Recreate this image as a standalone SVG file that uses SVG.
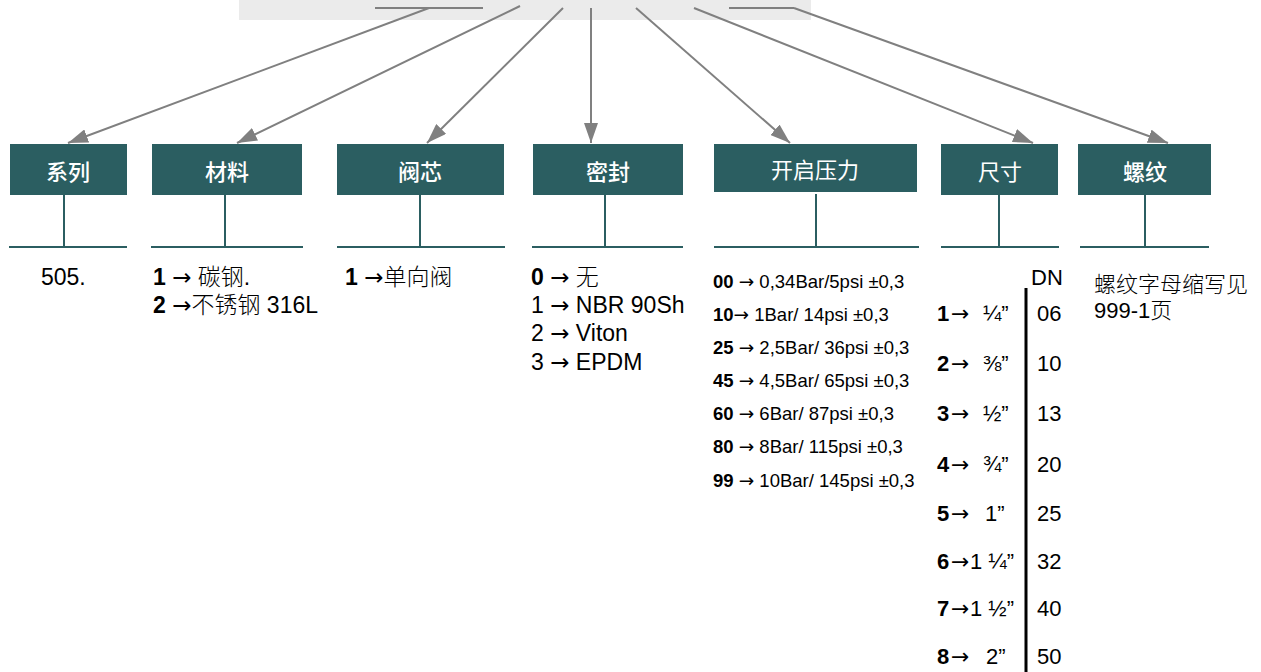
<svg xmlns="http://www.w3.org/2000/svg" width="1261" height="672" viewBox="0 0 1261 672">
<style>
.box{fill:#2b5e61}
.stem{stroke:#2b5e61;stroke-width:2;fill:none}
.title{fill:#fff;font-family:"Noto Sans CJK SC",sans-serif;font-size:22px;font-weight:500;text-anchor:middle}
.reg{font-weight:normal}
.conn{stroke:#808080;stroke-width:2;fill:none}
.t{font-family:"Liberation Sans","Noto Sans CJK SC",sans-serif;font-size:23px;fill:#000}
.s{font-family:"Liberation Sans","Noto Sans CJK SC",sans-serif;font-size:18.5px;fill:#000}
.r{font-family:"Liberation Sans","Noto Sans CJK SC",sans-serif;font-size:22px;fill:#000}
.b{font-weight:bold}
.ar{font-family:"DejaVu Sans",sans-serif}
.cjk{font-family:"Noto Sans CJK SC",sans-serif;font-weight:300}
</style>
<defs>
<marker id="ah" markerUnits="userSpaceOnUse" markerWidth="22" markerHeight="14" refX="20" refY="7" orient="auto">
<path d="M0,0 L20,7 L0,14 Z" fill="#808080"/>
</marker>
</defs>
<rect x="239" y="0" width="572" height="20" fill="#ebebeb"/>
<g id="connectors">
<line class="conn" x1="375" y1="8" x2="483" y2="8"/>
<line class="conn" x1="729" y1="8" x2="794" y2="8"/>
<line class="conn" x1="429" y1="8" x2="68" y2="143" marker-end="url(#ah)"/>
<line class="conn" x1="520" y1="6" x2="237" y2="143" marker-end="url(#ah)"/>
<line class="conn" x1="563" y1="8" x2="427" y2="143" marker-end="url(#ah)"/>
<line class="conn" x1="591" y1="8" x2="591" y2="143" marker-end="url(#ah)"/>
<line class="conn" x1="636" y1="8" x2="790" y2="143" marker-end="url(#ah)"/>
<line class="conn" x1="694" y1="8" x2="1033" y2="143" marker-end="url(#ah)"/>
<line class="conn" x1="794" y1="8" x2="1168" y2="143" marker-end="url(#ah)"/>
</g>
<g id="node-xilie">
<rect class="box" x="10" y="144" width="117" height="51"/>
<text class="title" x="68" y="180">系列</text>
<line class="stem" x1="64" y1="195" x2="64" y2="247"/>
<line class="stem" x1="9" y1="247" x2="127" y2="247"/>
<text class="t" x="41" y="285">505.</text>
</g>
<g id="node-cailiao">
<rect class="box" x="152" y="144" width="150" height="51"/>
<text class="title" x="227" y="180">材料</text>
<line class="stem" x1="225" y1="195" x2="225" y2="247"/>
<line class="stem" x1="151" y1="247" x2="303" y2="247"/>
<text class="t" x="153" y="285"><tspan class="b">1</tspan> <tspan class="ar">→</tspan> <tspan class="cjk">碳钢</tspan>.</text>
<text class="t" x="153" y="313"><tspan class="b">2</tspan> <tspan class="ar">→</tspan><tspan class="cjk">不锈钢</tspan> 316L</text>
</g>
<g id="node-faxin">
<rect class="box" x="337" y="144" width="167" height="51"/>
<text class="title" x="420" y="180">阀芯</text>
<line class="stem" x1="420" y1="195" x2="420" y2="247"/>
<line class="stem" x1="337" y1="247" x2="505" y2="247"/>
<text class="t" x="345" y="285"><tspan class="b">1</tspan> <tspan class="ar">→</tspan><tspan class="cjk">单向阀</tspan></text>
</g>
<g id="node-mifeng">
<rect class="box" x="533" y="144" width="150" height="51"/>
<text class="title" x="608" y="180">密封</text>
<line class="stem" x1="605" y1="195" x2="605" y2="247"/>
<line class="stem" x1="532" y1="247" x2="683" y2="247"/>
<text class="t" x="531" y="285"><tspan class="b">0</tspan> <tspan class="ar">→</tspan> <tspan class="cjk">无</tspan></text>
<text class="t" x="531" y="313">1 <tspan class="ar">→</tspan> NBR 90Sh</text>
<text class="t" x="531" y="341">2 <tspan class="ar">→</tspan> Viton</text>
<text class="t" x="531" y="370">3 <tspan class="ar">→</tspan> EPDM</text>
</g>
<g id="node-kaiqiyali">
<rect class="box" x="714" y="144" width="203" height="48"/>
<text class="title reg" x="815" y="178">开启压力</text>
<line class="stem" x1="816" y1="194" x2="816" y2="247"/>
<line class="stem" x1="714" y1="247" x2="919" y2="247"/>
<text class="s" x="713" y="288"><tspan class="b">00</tspan> <tspan class="ar">→</tspan> 0,34Bar/5psi ±0,3</text>
<text class="s" x="713" y="321"><tspan class="b">10</tspan><tspan class="ar">→</tspan> 1Bar/ 14psi ±0,3</text>
<text class="s" x="713" y="354"><tspan class="b">25</tspan> <tspan class="ar">→</tspan> 2,5Bar/ 36psi ±0,3</text>
<text class="s" x="713" y="387"><tspan class="b">45</tspan> <tspan class="ar">→</tspan> 4,5Bar/ 65psi ±0,3</text>
<text class="s" x="713" y="420"><tspan class="b">60</tspan> <tspan class="ar">→</tspan> 6Bar/ 87psi ±0,3</text>
<text class="s" x="713" y="453"><tspan class="b">80</tspan> <tspan class="ar">→</tspan> 8Bar/ 115psi ±0,3</text>
<text class="s" x="713" y="487"><tspan class="b">99</tspan> <tspan class="ar">→</tspan> 10Bar/ 145psi ±0,3</text>
</g>
<g id="node-chicun">
<rect class="box" x="941" y="144" width="117" height="51"/>
<text class="title reg" x="1000" y="180">尺寸</text>
<line class="stem" x1="999" y1="195" x2="999" y2="247"/>
<line class="stem" x1="941" y1="247" x2="1059" y2="247"/>
<line x1="1026" y1="288" x2="1026" y2="672" stroke="#000" stroke-width="3"/>
<text class="r" x="1031" y="285">DN</text>
<g class="r">
<text x="937" y="321"><tspan class="b">1</tspan><tspan class="ar" x="951">→</tspan><tspan x="983">¼”</tspan></text>
<text x="937" y="371"><tspan class="b">2</tspan><tspan class="ar" x="951">→</tspan><tspan x="983">⅜”</tspan></text>
<text x="937" y="421"><tspan class="b">3</tspan><tspan class="ar" x="951">→</tspan><tspan x="983">½”</tspan></text>
<text x="937" y="472"><tspan class="b">4</tspan><tspan class="ar" x="951">→</tspan><tspan x="983">¾”</tspan></text>
<text x="937" y="521"><tspan class="b">5</tspan><tspan class="ar" x="951">→</tspan><tspan x="985">1”</tspan></text>
<text x="937" y="569"><tspan class="b">6</tspan><tspan class="ar" x="951">→</tspan><tspan x="970">1 ¼”</tspan></text>
<text x="937" y="616"><tspan class="b">7</tspan><tspan class="ar" x="951">→</tspan><tspan x="970">1 ½”</tspan></text>
<text x="937" y="664"><tspan class="b">8</tspan><tspan class="ar" x="951">→</tspan><tspan x="986">2”</tspan></text>
<text x="1037" y="321">06</text>
<text x="1037" y="371">10</text>
<text x="1037" y="421">13</text>
<text x="1037" y="472">20</text>
<text x="1037" y="521">25</text>
<text x="1037" y="569">32</text>
<text x="1037" y="616">40</text>
<text x="1037" y="664">50</text>
</g>
</g>
<g id="node-luowen">
<rect class="box" x="1078" y="144" width="133" height="51"/>
<text class="title" x="1145" y="180">螺纹</text>
<line class="stem" x1="1145" y1="195" x2="1145" y2="247"/>
<line class="stem" x1="1080" y1="247" x2="1209" y2="247"/>
<text class="t" x="1094" y="292" style="font-size:22px"><tspan class="cjk">螺纹字母缩写见</tspan></text>
<text class="t" x="1094" y="318" style="font-size:22px">999-1<tspan class="cjk">页</tspan></text>
</g>
</svg>
